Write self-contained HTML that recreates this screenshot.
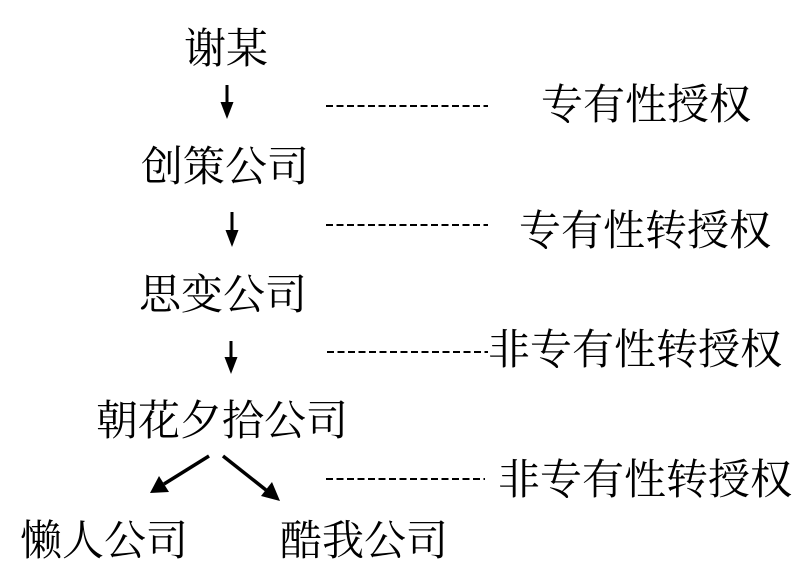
<!DOCTYPE html>
<html>
<head>
<meta charset="utf-8">
<style>
  html, body { margin:0; padding:0; background:#fff; }
  svg { display:block; }
  text { font-family: "Liberation Serif", "Noto Serif CJK SC", "Noto Sans CJK SC", serif; font-size:42px; fill:#000; dominant-baseline:central; }
</style>
</head>
<body>
<svg width="808" height="574" viewBox="0 0 808 574" xmlns="http://www.w3.org/2000/svg">
  <!-- left column nodes -->
  <text x="184" y="50">谢某</text>
  <text x="141" y="168">创策公司</text>
  <text x="139" y="296">思变公司</text>
  <text x="96" y="422">朝花夕拾公司</text>
  <text x="20" y="542">懒人公司</text>
  <text x="280" y="542">酷我公司</text>

  <!-- right labels -->
  <text x="541" y="106">专有性授权</text>
  <text x="519" y="232">专有性转授权</text>
  <text x="488" y="351">非专有性转授权</text>
  <text x="498" y="481">非专有性转授权</text>

  <!-- dashed lines -->
  <g stroke="#000" stroke-width="2" stroke-dasharray="7,3.5" fill="none">
    <line x1="326" y1="106" x2="488" y2="106"/>
    <line x1="326" y1="225" x2="488" y2="225"/>
    <line x1="327" y1="352" x2="488" y2="352"/>
    <line x1="326" y1="479" x2="485" y2="479"/>
  </g>

  <!-- vertical arrows -->
  <g stroke="#000" stroke-width="3">
    <line x1="227" y1="85" x2="227" y2="106"/>
    <line x1="232" y1="212" x2="232" y2="234"/>
    <line x1="231" y1="341" x2="231" y2="361"/>
  </g>
  <g fill="#000">
    <polygon points="220.5,102 233.5,102 227,119"/>
    <polygon points="225.5,230 238.5,230 232,247"/>
    <polygon points="224.5,357 237.5,357 231,374"/>
  </g>

  <!-- diagonal arrows -->
  <g stroke="#000" stroke-width="3.5" stroke-linecap="butt">
    <line x1="209" y1="456" x2="164" y2="484"/>
    <line x1="223" y1="456" x2="266" y2="490"/>
  </g>
  <g fill="#000">
    <polygon points="150,493 159,476 169,492"/>
    <polygon points="280,501 261,496 272,482"/>
  </g>
</svg>
</body>
</html>
